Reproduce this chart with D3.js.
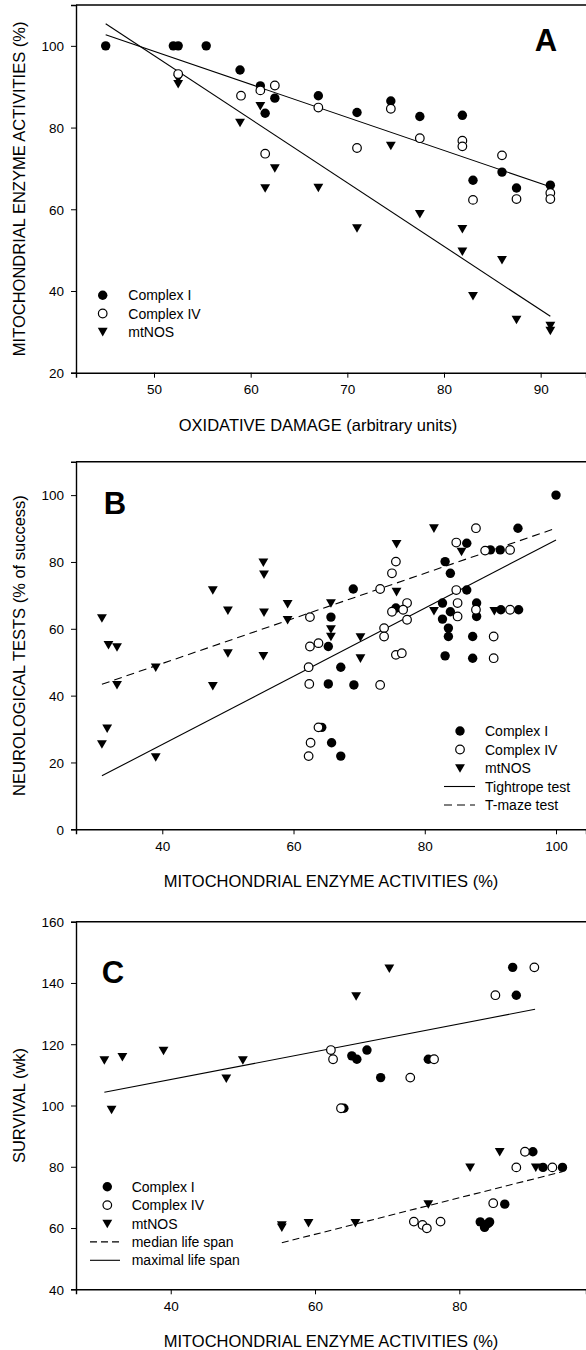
<html>
<head>
<script src="https://d3js.org/d3.v7.min.js"></script>
<style>
  body { margin: 0; background: #fff; }
  text { font-family: "Liberation Sans", Arial, sans-serif; fill: #000; }
</style>
</head>
<body>
<svg id="fig" width="586" height="1350"></svg>
<script>
// ---- panel A : oxidative damage vs enzyme activities
const aComplexI = [[45,100],[52,100],[52.5,100],[55.4,100],[58.9,94.1],[61,90.2],[61.5,83.5],[62.5,87.2],[67,87.8],[71,83.7],[74.5,86.5],[77.5,82.7],[81.9,83],[83,67.1],[86,69.1],[87.5,65.2],[91,65.9]];
const aComplexIV = [[52.5,93.1],[59,87.8],[61,89.1],[62.5,90.3],[61.5,73.6],[67,84.9],[71,75],[74.5,84.6],[77.5,77.4],[81.9,76.8],[81.9,75.4],[86,73.2],[83,62.3],[87.5,62.5],[91,64],[91,62.5]];
const aNOS = [[52.5,92],[52.5,90.7],[58.9,81.2],[61,85.3],[62.5,70.1],[61.5,65.2],[67,65.3],[74.5,75.6],[71,55.4],[77.5,58.9],[81.9,55.2],[81.9,49.7],[86,47.6],[83,38.8],[87.5,33],[91,31.5],[91,30.3]];
const aFitEnzyme = [[45,102.7],[91,65.5]];
const aFitNOS = [[45,105.4],[91,33.8]];

// ---- panel B : enzyme activities vs neurological tests
const bComplexI = [[100,100],[94.2,90.1],[86.4,85.6],[90,83.6],[91.5,83.6],[83.1,80.1],[83.9,76.6],[69.1,71.9],[86.4,71.6],[82.7,67.7],[83.9,65.1],[82.7,62.9],[87.9,67.7],[87.9,63.7],[75.6,66.2],[91.6,65.7],[94.3,65.7],[65.7,63.5],[83.6,60.2],[83.6,57.7],[87.3,57.7],[65.3,54.7],[83.1,51.9],[87.3,51.2],[67.2,48.5],[65.3,43.5],[69.2,43.2],[64.3,30.5],[65.8,25.9],[67.2,21.9]];
const bComplexIV = [[87.8,90.1],[84.8,85.8],[89.2,83.4],[93,83.6],[75.6,80.1],[75,76.6],[73.2,71.9],[84.8,71.6],[77.3,67.7],[85,67.7],[75,65.1],[76.7,65.7],[77.3,62.7],[85,63.7],[87.8,65.7],[93,65.7],[62.5,63.5],[73.8,60.2],[73.8,57.7],[90.5,57.7],[62.5,54.7],[63.8,55.7],[75.6,52.2],[76.5,52.7],[90.5,51.2],[62.3,48.5],[62.4,43.5],[73.2,43.2],[63.8,30.5],[62.6,25.9],[62.3,21.9]];
const bNOS = [[30.8,63.2],[31.8,55.2],[33.1,54.5],[47.7,71.6],[50,65.5],[55.4,79.9],[55.5,76.3],[55.5,64.9],[59.1,67.5],[59.1,62.7],[50,52.7],[55.4,51.9],[33.1,43.2],[39,48.5],[47.7,42.9],[30.8,25.5],[31.6,30.2],[39,21.6],[81.4,90.1],[75.7,85.4],[85.6,83.1],[75.7,71.1],[65.7,67.7],[65.7,59.9],[65.7,57.7],[81.4,65.4],[90.6,65.4],[70.2,57.5],[70.2,51.2]];
const bTightrope = [[30.8,16],[100,86.6]];
const bTmaze = [[30.8,43.4],[100,90.1]];

// ---- panel C : enzyme activities vs survival
const cComplexI = [[87.4,145.1],[87.9,136],[65.1,116.2],[65.8,115.1],[67.2,118.1],[75.7,115.1],[69.1,109.1],[64,99.1],[90.2,84.9],[91.6,79.8],[94.3,79.8],[86.3,67.8],[82.9,62],[83.5,61],[84,61.5],[83.5,60.2],[84.2,62]];
const cComplexIV = [[90.4,145.1],[85,136],[62.2,118.1],[62.5,115.1],[76.5,115.1],[73.2,109.1],[63.6,99.1],[89.1,84.9],[87.9,79.8],[92.9,79.8],[84.7,68.1],[73.7,62.1],[74.9,61],[75.5,59.9],[77.4,62.1]];
const cNOS = [[30.8,114.8],[33.3,115.9],[39,117.9],[47.7,108.9],[50,114.8],[31.8,98.7],[70.3,144.8],[65.7,135.7],[85.6,84.9],[81.5,79.8],[90.6,79.8],[75.7,67.8],[65.6,61.7],[59.1,61.7],[55.4,60.2],[55.4,61]];
const cMaximal = [[30.8,104.3],[90.5,131.4]];
const cMedian = [[55.4,55.2],[94.3,78.4]];

const aTicksX = [50,60,70,80,90], aTicksY = [20,40,60,80,100];
const bTicksX = [40,60,80,100], bTicksY = [0,20,40,60,80,100];
const cTicksX = [40,60,80], cTicksY = [40,60,80,100,120,140,160];

const svg = d3.select("#fig");
const left = 76, right = 586;
const tri = d3.symbol().type(d3.symbolTriangle).size(42);

function drawPoints(g, x, y, pts, kind) {
  pts.forEach(d => {
    if (kind == "tri") {
      g.append("path").attr("d", tri)
        .attr("transform", `translate(${x(d[0])},${y(d[1]) - 1}) rotate(180)`)
        .attr("fill", "#000");
    } else {
      g.append("circle").attr("cx", x(d[0])).attr("cy", y(d[1]))
        .attr("r", kind == "open" ? 4.3 : 4.7)
        .attr("fill", kind == "open" ? "#fff" : "#000")
        .attr("stroke", "#000").attr("stroke-width", kind == "open" ? 1.2 : 0);
    }
  });
}

function legendMarker(g, cx, cy, kind) {
  if (kind == "tri") {
    g.append("path").attr("d", tri).attr("transform", `translate(${cx},${cy - 1}) rotate(180)`);
  } else {
    g.append("circle").attr("cx", cx).attr("cy", cy).attr("r", kind == "open" ? 4.3 : 4.7)
      .attr("fill", kind == "open" ? "#fff" : "#000").attr("stroke", "#000")
      .attr("stroke-width", kind == "open" ? 1.2 : 0);
  }
}

function panel(p) {
  const g = svg.append("g");
  const x = d3.scaleLinear().domain(p.xDomain).range([left, right]);
  const y = d3.scaleLinear().domain(p.yDomain).range([p.bottom, p.top]);

  // frame top + axes
  g.append("line").attr("x1", left).attr("x2", right).attr("y1", p.top).attr("y2", p.top)
    .attr("stroke", "#000").attr("stroke-width", 1.4);
  const xa = g.append("g").attr("transform", `translate(0,${p.bottom})`)
    .call(d3.axisBottom(x).tickValues(p.ticksX).tickSize(5).tickPadding(7).tickFormat(d3.format("d")));
  const ya = g.append("g").attr("transform", `translate(${left},0)`)
    .call(d3.axisLeft(y).tickValues(p.ticksY).tickSize(5).tickPadding(7).tickFormat(d3.format("d")));
  [xa, ya].forEach(a => {
    a.select(".domain").attr("stroke-width", 1.4);
    a.selectAll(".tick line").attr("stroke-width", 1);
    a.selectAll("text").style("font-family", '"Liberation Sans", Arial, sans-serif').style("font-size", "13.5px");
  });
  ya.selectAll("text").attr("dy", "0.36em");

  // fit lines
  const line = d3.line().x(d => x(d[0])).y(d => y(d[1]));
  p.lines.forEach(l => {
    g.append("path").attr("d", line(l.data)).attr("fill", "none").attr("stroke", "#000")
      .attr("stroke-width", 1.1).attr("stroke-dasharray", l.dash || null);
  });

  // points
  drawPoints(g, x, y, p.nos, "tri");
  drawPoints(g, x, y, p.c1, "filled");
  drawPoints(g, x, y, p.c4, "open");

  // titles
  g.append("text").attr("x", (left + right) / 2 + p.xTitleShift).attr("y", p.bottom + 58)
    .attr("text-anchor", "middle").style("font-size", "16.5px").text(p.xTitle);
  g.append("text").attr("transform", `translate(25,${(p.top + p.bottom) / 2}) rotate(-90)`)
    .attr("text-anchor", "middle").style("font-size", "16.5px").text(p.yTitle);
  g.append("text").attr("x", p.letter[0]).attr("y", p.letter[1]).attr("text-anchor", "middle")
    .style("font-size", "31px").style("font-weight", "bold").text(p.letter[2]);

  // legend
  const L = p.legend;
  L.items.forEach((it, i) => {
    const cy = L.y + i * L.dy;
    if (it.kind == "line") {
      g.append("line").attr("x1", L.lx[0]).attr("x2", L.lx[1]).attr("y1", cy).attr("y2", cy)
        .attr("stroke", "#000").attr("stroke-width", 1.1).attr("stroke-dasharray", it.dash || null);
    } else {
      legendMarker(g, L.mx, cy, it.kind);
    }
    g.append("text").attr("x", L.tx).attr("y", cy + 5).style("font-size", "14px").text(it.label);
  });
}

panel({
  top: 5, bottom: 372.7, xDomain: [41.93, 94.69], yDomain: [20, 110],
  ticksX: aTicksX, ticksY: aTicksY,
  c1: aComplexI, c4: aComplexIV, nos: aNOS,
  lines: [{data: aFitEnzyme}, {data: aFitNOS}],
  xTitle: "OXIDATIVE DAMAGE (arbitrary units)", xTitleShift: -13,
  yTitle: "MITOCHONDRIAL ENZYME ACTIVITIES (%)",
  letter: [546, 51, "A"],
  legend: {mx: 102.7, tx: 128.3, y: 295.3, dy: 18.2, lx: [90, 120],
    items: [{kind: "filled", label: "Complex I"}, {kind: "open", label: "Complex IV"}, {kind: "tri", label: "mtNOS"}]}
});

panel({
  top: 461.7, bottom: 829.3, xDomain: [26.85, 104.57], yDomain: [0, 110],
  ticksX: bTicksX, ticksY: bTicksY,
  c1: bComplexI, c4: bComplexIV, nos: bNOS,
  lines: [{data: bTightrope}, {data: bTmaze, dash: "8,5"}],
  xTitle: "MITOCHONDRIAL ENZYME ACTIVITIES (%)", xTitleShift: 0,
  yTitle: "NEUROLOGICAL TESTS (% of success)",
  letter: [115, 514, "B"],
  legend: {mx: 460, tx: 485, y: 731, dy: 18.5, lx: [444, 475],
    items: [{kind: "filled", label: "Complex I"}, {kind: "open", label: "Complex IV"}, {kind: "tri", label: "mtNOS"},
            {kind: "line", label: "Tightrope test"}, {kind: "line", dash: "8,5", label: "T-maze test"}]}
});

panel({
  top: 921.7, bottom: 1289.3, xDomain: [26.87, 97.56], yDomain: [40, 160],
  ticksX: cTicksX, ticksY: cTicksY,
  c1: cComplexI, c4: cComplexIV, nos: cNOS,
  lines: [{data: cMaximal}, {data: cMedian, dash: "7,4"}],
  xTitle: "MITOCHONDRIAL ENZYME ACTIVITIES (%)", xTitleShift: 0,
  yTitle: "SURVIVAL (wk)",
  letter: [113, 983, "C"],
  legend: {mx: 107.3, tx: 131.7, y: 1186.7, dy: 18.4, lx: [90, 120],
    items: [{kind: "filled", label: "Complex I"}, {kind: "open", label: "Complex IV"}, {kind: "tri", label: "mtNOS"},
            {kind: "line", dash: "7,4", label: "median life span"}, {kind: "line", label: "maximal life span"}]}
});
</script>
</body>
</html>
